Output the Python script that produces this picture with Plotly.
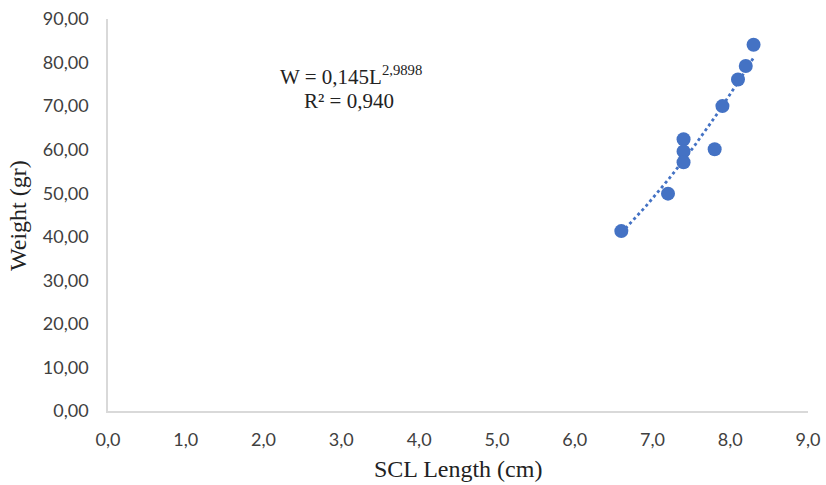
import numpy as np
import plotly.graph_objects as go

scl_length = [6.6, 7.2, 7.4, 7.4, 7.4, 7.8, 7.9, 8.1, 8.2, 8.3]
weight = [41.3, 49.9, 62.4, 59.6, 57.1, 60.1, 70.0, 76.1, 79.2, 84.1]
fit_a = 0.145
fit_b = 2.9898
eq_text = "W = 0,145L<sup>2,9898</sup>"
r2_text = "R² = 0,940"
x_title = "SCL Length (cm)"
y_title = "Weight (gr)"
x_ticks = [0, 1, 2, 3, 4, 5, 6, 7, 8, 9]
y_ticks = [0, 10, 20, 30, 40, 50, 60, 70, 80, 90]

blue = "#4472C4"
L, R, T, B, W, H = 108, 18, 19, 74, 826, 485
PW, PH = W - L - R, H - T - B


def px(xp):
    return (xp - L) / PW


def py(yp):
    return (H - B - yp) / PH


xf = np.linspace(min(scl_length), max(scl_length), 60)
yf = fit_a * xf ** fit_b

fig = go.Figure()
fig.add_trace(go.Scatter(x=xf, y=yf, mode="lines",
                         line=dict(color=blue, width=2.8, dash="dot"),
                         hoverinfo="skip", showlegend=False))
fig.add_trace(go.Scatter(x=scl_length, y=weight, mode="markers",
                         marker=dict(color=blue, size=14), showlegend=False))

ann_font = dict(family="Liberation Serif", size=21, color="#222")
fig.add_annotation(x=px(351), y=py(75), xref="paper", yref="paper",
                   xanchor="center", yanchor="middle",
                   showarrow=False, text=eq_text, font=ann_font)
fig.add_annotation(x=px(349), y=py(101), xref="paper", yref="paper",
                   xanchor="center", yanchor="middle",
                   showarrow=False, text=r2_text, font=ann_font)

title_font = dict(family="Liberation Serif", size=24, color="#222")
fig.add_annotation(x=px(458), y=py(469), xref="paper", yref="paper",
                   xanchor="center", yanchor="middle",
                   showarrow=False, text=x_title, font=title_font)
fig.add_annotation(x=px(18), y=py(216), xref="paper", yref="paper",
                   xanchor="center", yanchor="middle", textangle=-90,
                   showarrow=False, text=y_title, font=title_font)

fig.update_layout(
    width=W, height=H,
    margin=dict(l=L, r=R, t=T, b=B, autoexpand=False),
    paper_bgcolor="white", plot_bgcolor="white",
    separators=",.",
    xaxis=dict(range=[0, 9], tickvals=x_ticks, tickformat=".1f", automargin=False,
               showgrid=False, zeroline=False, showline=True, linecolor="#d9d9d9",
               linewidth=1.5, ticks="", ticklabelstandoff=12,
               tickfont=dict(family="Lato", size=18, color="#404040")),
    yaxis=dict(range=[0, 90], tickvals=y_ticks, tickformat=".2f", automargin=False,
               showgrid=False, zeroline=False, showline=True, linecolor="#d9d9d9",
               linewidth=1.5, ticks="", ticklabelstandoff=14,
               tickfont=dict(family="Lato", size=18, color="#404040")),
)

fig.write_html("out.html")
